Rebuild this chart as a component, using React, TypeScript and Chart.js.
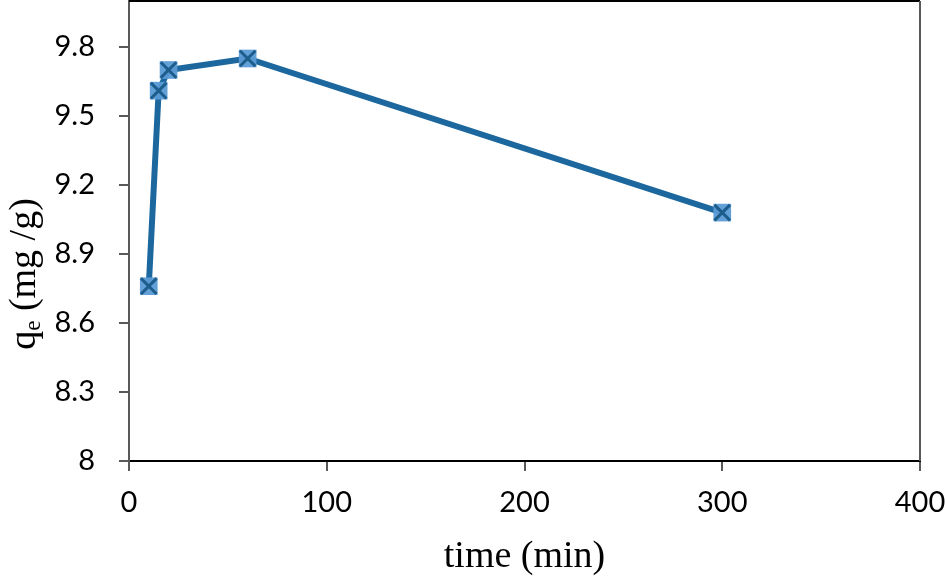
import React, { useEffect, useRef } from "react";
import { Chart, registerables } from "chart.js";

Chart.register(...registerables);

const timeMin = [10, 15, 20, 60, 300];
const qeValues = [8.76, 9.61, 9.7, 9.75, 9.08];
const xTicks = [0, 100, 200, 300, 400];
const yTicks = [8, 8.3, 8.6, 8.9, 9.2, 9.5, 9.8];
const xTitle = "time (min)";
const yTitleMain = "q";
const yTitleSub = "e";
const yTitleRest = " (mg /g)";

const W = 945;
const H = 576;

function zeroPad(s: any) {
  s.paddingTop = 0;
  s.paddingBottom = 0;
  s.paddingLeft = 0;
  s.paddingRight = 0;
}

export default function App() {
  const ref = useRef<HTMLCanvasElement | null>(null);

  useEffect(() => {
    if (!ref.current) return;
    const points = timeMin.map((t, i) => ({ x: t, y: qeValues[i] }));
    const tickFont = { family: "Lato", size: 29 };

    const titlesPlugin = {
      id: "titles",
      afterDraw(chart: any) {
        const ctx = chart.ctx;
        const a = chart.chartArea;
        ctx.save();
        // frame top & right
        ctx.strokeStyle = "#000";
        ctx.lineWidth = 2;
        ctx.beginPath();
        ctx.moveTo(a.left, a.top);
        ctx.lineTo(a.right, a.top);
        ctx.stroke();
        ctx.strokeStyle = "#595959";
        ctx.beginPath();
        ctx.moveTo(a.right, a.top);
        ctx.lineTo(a.right, a.bottom);
        ctx.stroke();

        // x title
        ctx.fillStyle = "#000";
        ctx.font = "38px 'Liberation Serif'";
        ctx.textAlign = "center";
        ctx.textBaseline = "alphabetic";
        ctx.fillText(xTitle, (a.left + a.right) / 2, 567);

        // y title rotated
        ctx.translate(35, 274);
        ctx.rotate(-Math.PI / 2);
        ctx.textAlign = "left";
        const mainFont = "38px 'Liberation Serif'";
        const subFont = "23px 'Liberation Serif'";
        ctx.font = mainFont;
        const wq = ctx.measureText(yTitleMain).width;
        const wr = ctx.measureText(yTitleRest).width;
        ctx.font = subFont;
        const we = ctx.measureText(yTitleSub).width;
        const total = wq + we + wr;
        const x0 = -total / 2;
        ctx.font = mainFont;
        ctx.fillText(yTitleMain, x0, 0);
        ctx.font = subFont;
        ctx.fillText(yTitleSub, x0 + wq, 5);
        ctx.font = mainFont;
        ctx.fillText(yTitleRest, x0 + wq + we, 0);
        ctx.restore();
      },
    };

    const chart = new Chart(ref.current, {
      type: "scatter",
      data: {
        datasets: [
          {
            label: "cross",
            data: points,
            showLine: false,
            order: 0,
            pointStyle: "crossRot",
            pointRadius: 11,
            pointBorderColor: "#1d5d8c",
            pointBorderWidth: 3,
            pointBackgroundColor: "#1d5d8c",
          },
          {
            label: "qe",
            data: points,
            showLine: true,
            order: 1,
            borderColor: "#1b679e",
            borderWidth: 6,
            pointStyle: "rect",
            pointRadius: 12.5,
            pointBackgroundColor: "rgba(91,155,213,0.95)",
            pointBorderWidth: 0,
            pointBorderColor: "rgba(0,0,0,0)",
          },
        ],
      } as any,
      options: {
        animation: false,
        responsive: false,
        devicePixelRatio: 1,
        layout: { autoPadding: false, padding: { top: 1, right: 25, left: 0, bottom: 0 } },
        plugins: {
          legend: { display: false },
          tooltip: { enabled: false },
          title: { display: false },
        },
        scales: {
          x: {
            type: "linear",
            min: 0,
            max: 400,
            afterBuildTicks: (s: any) => {
              s.ticks = xTicks.map((v) => ({ value: v }));
            },
            afterFit: (s: any) => {
              s.height = 115;
              zeroPad(s);
            },
            ticks: {
              autoSkip: false,
              maxRotation: 0,
              color: "#000",
              font: tickFont,
              padding: 14,
              callback: (v: any) => String(v),
            },
            grid: {
              display: true,
              drawOnChartArea: false,
              drawTicks: true,
              tickLength: 10,
              color: "#595959",
              lineWidth: 2,
            },
            border: { display: true, color: "#000", width: 2 },
          },
          y: {
            type: "linear",
            min: 8,
            max: 10,
            afterBuildTicks: (s: any) => {
              s.ticks = yTicks.map((v) => ({ value: v }));
            },
            afterFit: (s: any) => {
              s.width = 129;
              zeroPad(s);
            },
            ticks: {
              autoSkip: false,
              color: "#000",
              font: tickFont,
              padding: 24,
              callback: (v: any) => String(v),
            },
            grid: {
              display: true,
              drawOnChartArea: false,
              drawTicks: true,
              tickLength: 10,
              color: "#595959",
              lineWidth: 2,
            },
            border: { display: true, color: "#595959", width: 2 },
          },
        },
      } as any,
      plugins: [titlesPlugin],
    });
    return () => chart.destroy();
  }, []);

  return (
    <div style={{ position: "absolute", left: 0, top: 0, width: W, height: H, background: "#fff" }}>
      <canvas ref={ref} width={W} height={H} style={{ width: W, height: H, display: "block" }} />
    </div>
  );
}
